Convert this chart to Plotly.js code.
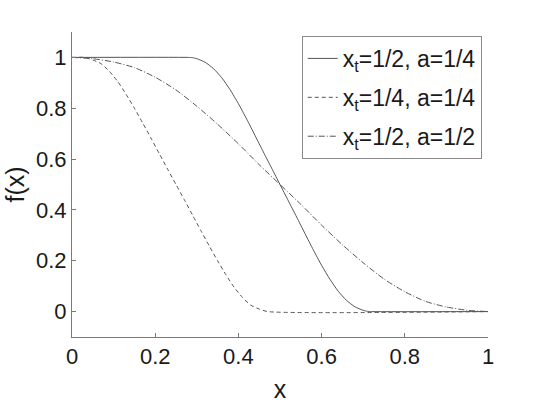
<!DOCTYPE html>
<html>
<head>
<meta charset="utf-8">
<script src="https://cdn.plot.ly/plotly-3.0.1.min.js"></script>
<style>html,body{margin:0;padding:0;background:#fff;}</style>
</head>
<body>
<div id="chart" style="width:540px;height:405px;"></div>
<script>
// Curve 1: x_t = 1/2, a = 1/4 (solid)
const x1 = [0, 0.28, 0.29, 0.30, 0.32, 0.34, 0.36, 0.38, 0.40, 0.42, 0.44, 0.46, 0.48, 0.50,
            0.52, 0.54, 0.56, 0.58, 0.60, 0.62, 0.64, 0.66, 0.68, 0.70, 0.71, 0.72, 1.0];
const y1 = [1, 1, 0.999, 0.995, 0.981, 0.956, 0.92, 0.873, 0.818, 0.757, 0.693, 0.628, 0.564, 0.5,
            0.436, 0.372, 0.307, 0.243, 0.182, 0.127, 0.08, 0.044, 0.019, 0.005, 0.001, 0, 0];
// Curve 2: x_t = 1/4, a = 1/4 (dashed)
const x2 = [0, 0.03, 0.05, 0.07, 0.09, 0.11, 0.13, 0.15, 0.17, 0.19, 0.21, 0.23, 0.25,
            0.27, 0.29, 0.31, 0.33, 0.35, 0.37, 0.39, 0.41, 0.43, 0.45, 0.47, 1.0];
const y2 = [1, 1, 0.99, 0.975, 0.945, 0.905, 0.855, 0.80, 0.742, 0.682, 0.621, 0.56, 0.5,
            0.44, 0.379, 0.318, 0.258, 0.2, 0.145, 0.095, 0.055, 0.025, 0.01, 0, 0];
// Curve 3: x_t = 1/2, a = 1/2 (dash-dot)
const x3 = [0, 0.05, 0.10, 0.15, 0.20, 0.25, 0.30, 0.35, 0.40, 0.45, 0.50,
            0.55, 0.60, 0.65, 0.70, 0.75, 0.80, 0.85, 0.90, 0.95, 1.0];
const y3 = [1, 0.995, 0.982, 0.96, 0.922, 0.872, 0.808, 0.737, 0.66, 0.578, 0.5,
            0.422, 0.34, 0.263, 0.192, 0.128, 0.078, 0.04, 0.018, 0.005, 0];

const names = ['x<sub>t</sub>=1/2, a=1/4', 'x<sub>t</sub>=1/4, a=1/4', 'x<sub>t</sub>=1/2, a=1/2'];
const xTicks = [0, 0.2, 0.4, 0.6, 0.8, 1];
const xTickText = ['0', '0.2', '0.4', '0.6', '0.8', '1'];
const yTicks = [0, 0.2, 0.4, 0.6, 0.8, 1];
const yTickText = ['0', '0.2', '0.4', '0.6', '0.8', '1'];

const font = 'Liberation Sans, Arial, Helvetica, sans-serif';
const lineCol = '#555555';

const traces = [
  {x: x1, y: y1, name: names[0], legendgroup: 'a', mode: 'lines', line: {color: lineCol, width: 1, shape: 'spline', smoothing: 0.6, dash: 'solid'}},
  {x: x2, y: y2, name: names[1], legendgroup: 'b', mode: 'lines', line: {color: lineCol, width: 1, shape: 'spline', smoothing: 0.6, dash: '4px,3px'}},
  {x: x3, y: y3, name: names[2], legendgroup: 'c', mode: 'lines', line: {color: lineCol, width: 1, shape: 'spline', smoothing: 0.6, dash: '6px,2px,1px,2px'}}
];

const layout = {
  width: 540, height: 405,
  margin: {l: 71.7, r: 51.7, t: 32, b: 68, pad: 0},
  paper_bgcolor: '#ffffff', plot_bgcolor: '#ffffff',
  font: {family: font, size: 22, color: '#1a1a1a'},
  showlegend: true,
  legend: {
    x: 0.985, xanchor: 'right', y: 0.987, yanchor: 'top',
    bordercolor: '#8a8a8a', borderwidth: 1, bgcolor: '#ffffff',
    font: {family: font, size: 23, color: '#1a1a1a'},
    tracegroupgap: 6, itemwidth: 30
  },
  xaxis: {
    range: [0, 1], tickvals: xTicks, ticktext: xTickText,
    showgrid: false, zeroline: false, showline: true, linecolor: '#7a7a7a', linewidth: 1,
    ticks: 'inside', ticklen: 4, tickcolor: '#7a7a7a',
    tickfont: {family: font, size: 22, color: '#1a1a1a'},
    title: {text: 'x', font: {family: font, size: 25, color: '#1a1a1a'}, standoff: 12},
    fixedrange: true
  },
  yaxis: {
    range: [-0.1, 1.1], tickvals: yTicks, ticktext: yTickText,
    showgrid: false, zeroline: false, showline: true, linecolor: '#7a7a7a', linewidth: 1,
    ticks: 'inside', ticklen: 4, tickcolor: '#7a7a7a',
    tickfont: {family: font, size: 22, color: '#1a1a1a'},
    title: {text: 'f(x)', font: {family: font, size: 25, color: '#1a1a1a'}, standoff: 4},
    fixedrange: true
  }
};

Plotly.newPlot('chart', traces, layout, {staticPlot: true, displayModeBar: false});
</script>
</body>
</html>
